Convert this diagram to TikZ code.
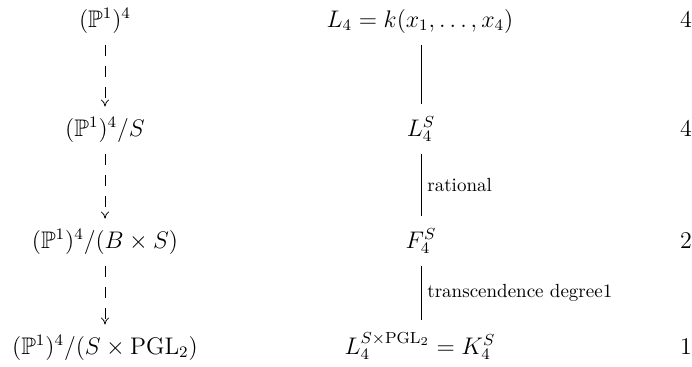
\documentclass[tikz,border=0pt]{standalone}
\usepackage{fix-cm}
\usepackage{amsmath,amssymb}
\usetikzlibrary{arrows.meta}
\begin{document}
\begin{tikzpicture}[x=0.5pt,y=-0.5pt,
  lbl/.style={anchor=base,inner sep=0pt,font=\fontsize{12}{14}\selectfont},
  dasharrow/.style={dash pattern=on 5.5pt off 5pt,-{To[length=3.5pt,width=4pt]},line width=0.4pt},
  solidline/.style={line width=0.4pt},
  side/.style={font=\fontsize{9.5}{11}\selectfont,anchor=west,inner sep=0pt}]
\useasboundingbox (0,0) rectangle (692,366);
% left column
\node[lbl] (a1) at (105,27) {$(\mathbb{P}^1)^4$};
\node[lbl] (a2) at (105,136) {$(\mathbb{P}^1)^4/S$};
\node[lbl] (a3) at (105,248) {$(\mathbb{P}^1)^4/(B\times S)$};
\node[lbl] (a4) at (105,354) {$(\mathbb{P}^1)^4/(S\times \mathrm{PGL}_2)$};
% middle column
\node[lbl] (m1) at (420,27) {$L_4 = k(x_1,\dots,x_4)$};
\node[lbl] (m2) at (421,136) {$L_4^S$};
\node[lbl] (m3) at (421,248) {$F_4^S$};
\node[lbl] (m4) at (420,354) {$L_4^{S\times \mathrm{PGL}_2} = K_4^S$};
% right column
\node[lbl] (n1) at (686,27) {$4$};
\node[lbl] (n2) at (686,136) {$4$};
\node[lbl] (n3) at (686,248) {$2$};
\node[lbl] (n4) at (686,354) {$1$};
% connectors
\draw[dasharrow] ([yshift=-6pt]a1.south -| 105,0) -- ([yshift=5pt]a2.north -| 105,0);
\draw[dasharrow] ([yshift=-6pt]a2.south -| 105,0) -- ([yshift=5pt]a3.north -| 105,0);
\draw[dasharrow] ([yshift=-6pt]a3.south -| 105,0) -- ([yshift=5pt]a4.north -| 105,0);
\draw[solidline] ([yshift=-6pt]m1.south -| 421,0) -- ([yshift=6pt]m2.north -| 421,0);
\draw[solidline] ([yshift=-6pt]m2.south -| 421,0) -- ([yshift=6pt]m3.north -| 421,0)
  node[side,midway,xshift=3pt] {rational};
\draw[solidline] ([yshift=-6pt]m3.south -| 421,0) -- ([yshift=6pt]m4.north -| 421,0)
  node[side,midway,xshift=3pt] {transcendence degree1};
\end{tikzpicture}
\end{document}
